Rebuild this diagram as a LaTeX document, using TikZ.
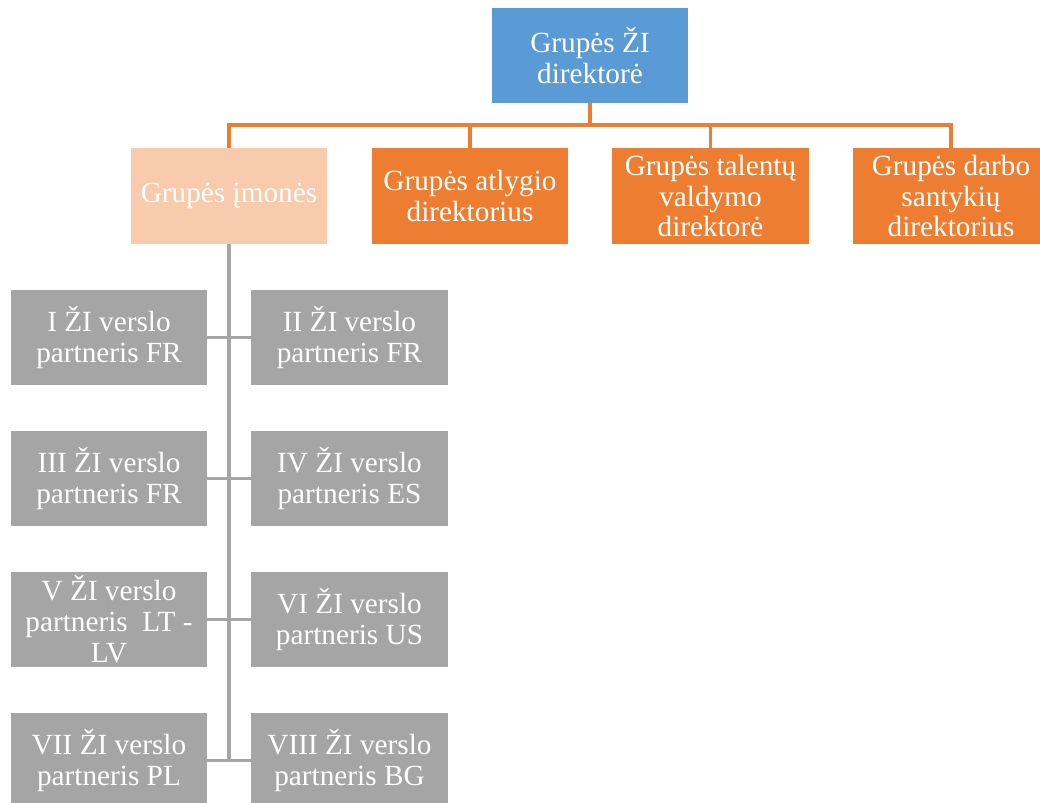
\documentclass[tikz,border=0pt]{standalone}
\usepackage{fontspec}
\setmainfont{Liberation Serif}
\definecolor{headblue}{HTML}{5B9BD5}
\definecolor{deptorange}{HTML}{ED7D31}
\definecolor{grouppeach}{HTML}{F8CBAD}
\definecolor{partnergray}{HTML}{A5A5A5}
\begin{document}
\begin{tikzpicture}[x=0.025cm, y=-0.025cm,
    box/.style={rectangle, minimum width=4.9cm, minimum height=2.375cm,
                inner sep=2pt, align=center, text=white,
                font=\fontsize{20.8}{22}\selectfont},
    headbox/.style={box, fill=headblue},
    deptbox/.style={box, fill=deptorange},
    groupbox/.style={box, fill=grouppeach},
    partnerbox/.style={box, fill=partnergray},
    orgline/.style={draw=deptorange, line width=2.2pt},
    subline/.style={draw=partnergray, line width=2.2pt}]
      \useasboundingbox (0, 0) rectangle (1040, 803);
      \node (head) [headbox] at (590, 55.5) {Grupės ŽI\\direktorė};
      \node (imones) [groupbox] at (229, 196) {Grupės įmonės};
      \node (atlygio) [deptbox] at (470, 196) {Grupės atlygio\\direktorius};
      \node (talentu) [deptbox] at (710.5, 196) {Grupės talentų\\valdymo\\direktorė};
      \node (darbo) [deptbox] at (951, 196) {Grupės darbo\\santykių\\direktorius};
      \node (p1) [partnerbox] at (109, 337.5) {I ŽI verslo\\partneris FR};
      \node (p2) [partnerbox] at (349.5, 337.5) {II ŽI verslo\\partneris FR};
      \node (p3) [partnerbox] at (109, 478.5) {III ŽI verslo\\partneris FR};
      \node (p4) [partnerbox] at (349.5, 478.5) {IV ŽI verslo\\partneris ES};
      \node (p5) [partnerbox] at (109, 619.5) {V ŽI verslo\\partneris\ \ LT -\\LV};
      \node (p6) [partnerbox] at (349.5, 619.5) {VI ŽI verslo\\partneris US};
      \node (p7) [partnerbox] at (109, 760.5) {VII ŽI verslo\\partneris PL};
      \node (p8) [partnerbox] at (349.5, 760.5) {VIII ŽI verslo\\partneris BG};
      \coordinate (bus) at (590, 125);
      \coordinate (trunkend) at (229, 762);
      \draw [orgline] (head.south) -- (bus)
                      (bus) -| (imones.north)
                      (bus) -| (atlygio.north)
                      (bus) -| (talentu.north)
                      (bus) -| (darbo.north);
      \draw [subline] (imones.south) -- (trunkend)
                      (p1.east) -- (p2.west)
                      (p3.east) -- (p4.west)
                      (p5.east) -- (p6.west)
                      (p7.east) -- (p8.west);
\end{tikzpicture}
\end{document}
